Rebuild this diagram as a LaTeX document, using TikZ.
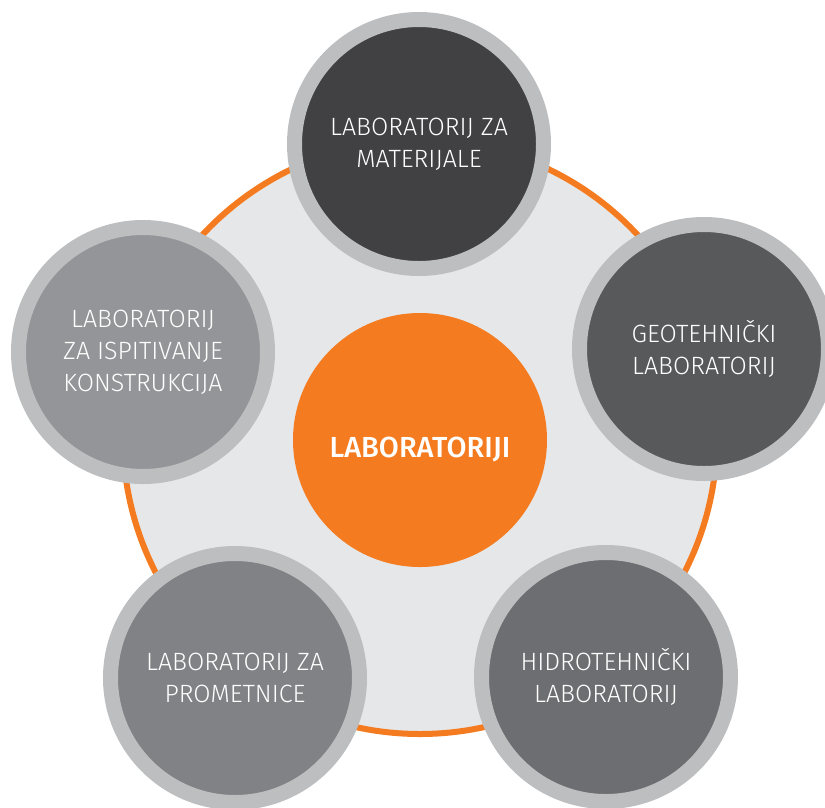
\documentclass[tikz,border=0pt]{standalone}
\usepackage{fontspec}
\setmainfont{Fira Sans}[UprightFont=* Light, BoldFont=* Medium]
\definecolor{labOrange}{HTML}{F47B20}
\definecolor{labBack}{HTML}{E6E7E8}
\definecolor{labRing}{HTML}{BCBEC0}
\definecolor{labNinety}{HTML}{414042}
\definecolor{labEighty}{HTML}{58595B}
\definecolor{labSeventy}{HTML}{6D6E71}
\definecolor{labSixty}{HTML}{808285}
\definecolor{labFifty}{HTML}{939598}
\begin{document}
\begin{tikzpicture}[
                            x=1pt, y=-1pt,
                            lab/.style={circle, draw=labRing, line width=15pt, minimum size=249pt, inner sep=0pt,
                                        text=white, align=center, font=\fontsize{25}{32}\selectfont},
                            hub/.style={circle, fill=labOrange, minimum size=254pt, inner sep=0pt}
                        ]
                        \useasboundingbox (0,0) rectangle (825,807);
                        \clip (0,0) rectangle (825,807);
                        % Background
                        \node [circle, fill=labBack, draw=labOrange, line width=6pt, minimum size=594pt, inner sep=0pt] (back) at (420,437) {};
                        \node [hub] (hub) at (420,440) {};
                        \node [text=white, font=\fontsize{29}{34}\selectfont\bfseries] (hubtext) at (420,450) {LABORATORIJI};

                        % Labs
                        \node [lab, fill=labNinety] (mat) at (419,144) {LABORATORIJ ZA\\MATERIJALE};
                        \node [lab, fill=labEighty] (geo) at (704,349) {GEOTEHNIČKI\\LABORATORIJ};
                        \node [lab, fill=labSeventy] (hidro) at (606,677) {HIDROTEHNIČKI\\LABORATORIJ};
                        \node [lab, fill=labSixty] (prom) at (235,678) {LABORATORIJ ZA\\PROMETNICE};
                        \node [lab, fill=labFifty] (konst) at (143,352) {LABORATORIJ\\ZA ISPITIVANJE\\KONSTRUKCIJA};
                    \end{tikzpicture}
\end{document}
